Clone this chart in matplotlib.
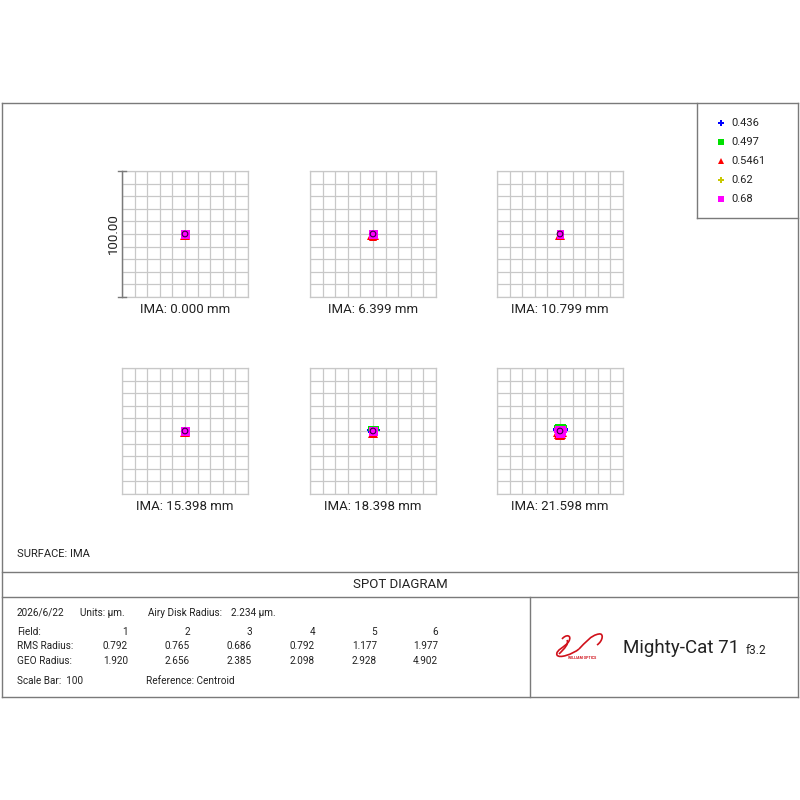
import matplotlib.pyplot as plt
import numpy as np
from matplotlib.patches import Circle, PathPatch
from matplotlib.path import Path
from matplotlib.lines import Line2D

plt.rcParams['font.family'] = ['Roboto', 'DejaVu Sans']

W = H = 800

# wavelengths (um) and colors / markers as in the zemax legend
wavelengths = ["0.436", "0.497", "0.5461", "0.62", "0.68"]
wl_colors = ["#0000ff", "#00e000", "#ff0000", "#c8c800", "#ff00ff"]
wl_markers = ["P", "s", "^", "P", "s"]

fields = [1, 2, 3, 4, 5, 6]
ima_labels = ["IMA: 0.000 mm", "IMA: 6.399 mm", "IMA: 10.799 mm",
              "IMA: 15.398 mm", "IMA: 18.398 mm", "IMA: 21.598 mm"]
rms_radius = ["0.792", "0.765", "0.686", "0.792", "1.177", "1.977"]
geo_radius = ["1.920", "2.656", "2.385", "2.098", "2.928", "4.902"]
airy_radius = 2.234
scale_bar = 100

# ray hit offsets in um, per field, per wavelength (x list, y list)
spots = {
    1: {"0.436": ([-1, 1], [0.5, 0.5]),
        "0.497": ([-1.5, 0, 1.5], [1.5, 1.5, 1.5]),
        "0.5461": ([-1.5, 0, 1.5], [-2.5, -2.5, -2.5]),
        "0.62": ([0], [-1]),
        "0.68": ([-1.5, 0, 1.5, -1.5, 0, 1.5, -1.5, 0, 1.5],
                 [1.5, 1.5, 1.5, 0, 0, 0, -1.5, -1.5, -1.5])},
    2: {"0.436": ([-1.5, 1.5], [0.5, 0.5]),
        "0.497": ([-1.5, 0, 1.5], [1.5, 1.5, 1.5]),
        "0.5461": ([-2, -0.7, 0.7, 2], [-2.5, -2.8, -2.8, -2.5]),
        "0.62": ([0], [-1]),
        "0.68": ([-1.5, 0, 1.5, -1.5, 0, 1.5, -1.5, 0, 1.5],
                 [1.5, 1.5, 1.5, 0, 0, 0, -1.5, -1.5, -1.5])},
    3: {"0.436": ([-1, 1], [0.5, 0.5]),
        "0.497": ([-1, 0, 1], [1.5, 1.5, 1.5]),
        "0.5461": ([-1.5, 0, 1.5], [-2.2, -2.5, -2.2]),
        "0.62": ([0], [-1]),
        "0.68": ([-1, 0, 1, -1, 0, 1, -1, 0, 1],
                 [1.2, 1.2, 1.2, 0, 0, 0, -1.2, -1.2, -1.2])},
    4: {"0.436": ([-1.5, 1.5], [0.5, 0.5]),
        "0.497": ([-1.5, 0, 1.5], [1.5, 1.5, 1.5]),
        "0.5461": ([-1.5, 0, 1.5], [-2.5, -2.7, -2.5]),
        "0.62": ([0], [-1]),
        "0.68": ([-1.2, 0, 1.2, -1.2, 0, 1.2, -1.2, 0, 1.2],
                 [1.5, 1.5, 1.5, 0, 0, 0, -1.5, -1.5, -1.5])},
    5: {"0.436": ([-3, 3], [1, 1]),
        "0.497": ([-2.5, -1, 1, 2.5], [2, 2.3, 2.3, 2]),
        "0.5461": ([-1.5, 0, 1.5], [-2.8, -3, -2.8]),
        "0.62": ([0], [-1]),
        "0.68": ([-1.5, 0, 1.5, -1.5, 0, 1.5, -1.5, 0, 1.5],
                 [1.5, 1.5, 1.5, 0, 0, 0, -1.5, -1.5, -1.5])},
    6: {"0.436": ([-4.2, 4.2, -4, 4], [1.5, 1.5, 0.5, 0.5]),
        "0.497": ([-3.5, -2, -0.7, 0.7, 2, 3.5, -3.5, 3.5],
                  [3.5, 3.7, 3.8, 3.8, 3.7, 3.5, 2.5, 2.5]),
        "0.5461": ([-2.5, -1.2, 0, 1.2, 2.5, -3, 3],
                   [-4, -4.5, -4.8, -4.5, -4, -2.5, -2.5]),
        "0.62": ([0, -2, 2], [-1, 0, 0]),
        "0.68": ([-2.5, -1, 1, 2.5, -2.8, -1, 1, 2.8, -2.2, -0.8, 0.8, 2.2,
                  -1.2, 0, 1.2],
                 [2.5, 2.5, 2.5, 2.5, 0.5, 0.5, 0.5, 0.5, -1.8, -1.8, -1.8,
                  -1.8, -3.5, -3.5, -3.5])},
}

# panel pixel boxes (left, top) in the 800x800 image, 126 px square
panel_origin = [(122, 171), (310, 171), (497, 171),
                (122, 368), (310, 368), (497, 368)]
PANEL = 126

line_col = "#7a7a7a"
grid_col = "#c8c8c8"
text_col = "#222222"
logo_red = "#d0101a"


def fx(x):
    return x / W


def fy(y):
    return 1 - y / H


fig = plt.figure(figsize=(8, 8), dpi=100)
fig.patch.set_facecolor("white")


def hline(x0, x1, y, **kw):
    fig.add_artist(Line2D([fx(x0), fx(x1)], [fy(y), fy(y)], color=line_col, lw=1.0, **kw))


def vline(x, y0, y1, **kw):
    fig.add_artist(Line2D([fx(x), fx(x)], [fy(y0), fy(y1)], color=line_col, lw=1.0, **kw))


# frames
hline(2, 798, 103)
hline(2, 798, 697)
vline(2, 103, 697)
vline(798, 103, 697)
hline(2, 798, 572)
hline(2, 798, 597)
vline(530, 597, 697)
vline(697, 103, 218)
hline(697, 798, 218)

# spot panels
for i, fld in enumerate(fields):
    left, top = panel_origin[i]
    ax = fig.add_axes([fx(left), fy(top + PANEL), PANEL / W, PANEL / H])
    ax.set_xlim(-50, 50)
    ax.set_ylim(-50, 50)
    ax.set_xticks(np.arange(-50, 51, 10))
    ax.set_yticks(np.arange(-50, 51, 10))
    ax.grid(True, color=grid_col, lw=0.9)
    ax.tick_params(length=0, labelbottom=False, labelleft=False)
    for s in ax.spines.values():
        s.set_color(grid_col)
        s.set_linewidth(0.9)
    for wl, c, m in zip(wavelengths, wl_colors, wl_markers):
        xs, ys = spots[fld][wl]
        ax.plot(xs, ys, ls="none", marker=m, color=c, ms=3.6 if m != "^" else 4.2,
                mew=0)
    ax.add_patch(Circle((0, 0), airy_radius, fill=False, ec="#3a0040", lw=0.8,
                        zorder=6))
    fig.text(fx(left + PANEL / 2), fy(top + PANEL + 13), ima_labels[i],
             ha="center", va="center", fontsize=9.5, color=text_col)

# scale bar left of first panel
left, top = panel_origin[0]
vline(left, top, top + PANEL)
hline(left - 4, left + 4, top)
hline(left - 4, left + 4, top + PANEL)
fig.text(fx(113), fy(top + PANEL / 2), f"{scale_bar:.2f}", rotation=90,
         ha="center", va="center", fontsize=9.5, color=text_col)

# legend box
for k, (wl, c, m) in enumerate(zip(wavelengths, wl_colors, wl_markers)):
    yy = 123 + 19 * k
    fig.add_artist(Line2D([fx(721)], [fy(yy)], ls="none", marker=m, color=c,
                          ms=4.5 if m != "^" else 4.8, mew=0))
    fig.text(fx(731), fy(yy), wl, ha="left", va="center", fontsize=8, color=text_col)

fig.text(fx(17), fy(554), "SURFACE: IMA", ha="left", va="center", fontsize=8, color=text_col)
fig.text(fx(400), fy(585), "SPOT DIAGRAM", ha="center", va="center", fontsize=9.5,
         color=text_col)

# info block
fs = 7.2
fig.text(fx(17), fy(613), "2026/6/22", ha="left", va="center", fontsize=fs, color=text_col)
fig.text(fx(80), fy(613), "Units: \u00b5m.", ha="left", va="center", fontsize=fs, color=text_col)
fig.text(fx(148), fy(613), "Airy Disk Radius:", ha="left", va="center", fontsize=fs,
         color=text_col)
fig.text(fx(231), fy(613), f"{airy_radius:.3f} \u00b5m.", ha="left", va="center",
         fontsize=fs, color=text_col)

col_x = [128, 190, 252, 315, 377, 438]
rows = [("Field:", [str(f) for f in fields], 632),
        ("RMS Radius:", rms_radius, 646),
        ("GEO Radius:", geo_radius, 661)]
for name, vals, yy in rows:
    fig.text(fx(17), fy(yy), name, ha="left", va="center", fontsize=fs, color=text_col)
    for cx, v in zip(col_x, vals):
        fig.text(fx(cx), fy(yy), v, ha="right", va="center", fontsize=fs, color=text_col)

fig.text(fx(17), fy(681), f"Scale Bar:  {scale_bar}", ha="left", va="center",
         fontsize=fs, color=text_col)
fig.text(fx(146), fy(681), "Reference: Centroid", ha="left", va="center",
         fontsize=fs, color=text_col)

# logo: red swan swoosh
lax = fig.add_axes([fx(553), fy(662), 52 / W, 32 / H])
lax.set_xlim(0, 52)
lax.set_ylim(0, 32)
lax.axis("off")
swan = Path([(9, 23), (13, 28), (19, 27), (16, 21),
             (13, 15), (2, 12), (4, 7),
             (6, 3), (20, 8), (26, 13)],
            [Path.MOVETO, Path.CURVE4, Path.CURVE4, Path.CURVE4,
             Path.CURVE4, Path.CURVE4, Path.CURVE4,
             Path.CURVE4, Path.CURVE4, Path.CURVE4])
sweep = Path([(26, 13), (32, 19), (38, 27), (46, 28),
              (51, 29), (50, 21), (44, 17)],
             [Path.MOVETO, Path.CURVE4, Path.CURVE4, Path.CURVE4,
              Path.CURVE4, Path.CURVE4, Path.CURVE4])
inner = Path([(6, 8), (12, 14), (16, 18), (14, 22)],
             [Path.MOVETO, Path.CURVE4, Path.CURVE4, Path.CURVE4])
for p in (swan, sweep, inner):
    lax.add_patch(PathPatch(p, fill=False, ec=logo_red, lw=1.2))
lax.text(29, 4, "WILLIAM OPTICS", ha="center", va="center", fontsize=2.6,
         color=logo_red, fontweight="bold")

fig.text(fx(623), fy(648), "Mighty-Cat 71", ha="left", va="center", fontsize=13.5,
         color=text_col)
fig.text(fx(746), fy(650), "f3.2", ha="left", va="center", fontsize=8.5, color=text_col)

fig.savefig("out.png", dpi=100, facecolor="white")
